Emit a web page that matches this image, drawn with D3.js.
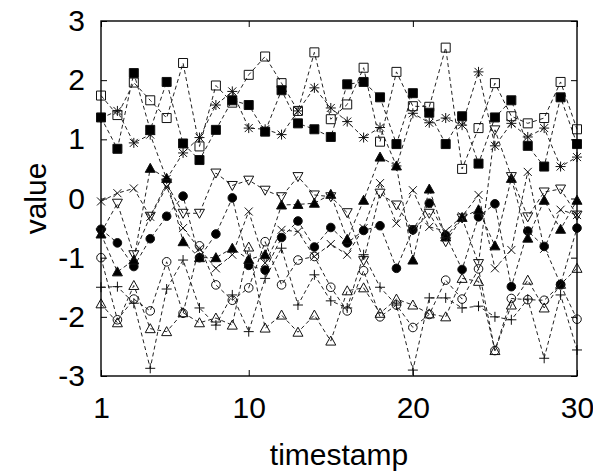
<!DOCTYPE html>
<html>
<head>
<meta charset="utf-8">
<script src="https://cdn.jsdelivr.net/npm/d3@7"></script>
<style>
  body { margin: 0; background: #fff; }
  text { font-family: "Liberation Sans", Arial, Helvetica, sans-serif; }
</style>
</head>
<body>
<svg id="chart" width="593" height="474"></svg>
<script>
// values, one array per series
var timestamps = [1,2,3,4,5,6,7,8,9,10,11,12,13,14,15,16,17,18,19,20,21,22,23,24,25,26,27,28,29,30];

var plusSeries     = [-1.5,-1.49,-1.77,-2.87,-1.53,-1.04,-1.85,-2.14,-1.63,-2.25,-1.35,-0.84,-1.8,-1.29,-1.73,-1.85,-0.95,-1.5,-1.8,-2.9,-1.68,-1.68,-1.85,-1.82,-2.0,-2.05,-1.7,-2.7,-1.63,-2.56];
var crossSeries    = [-0.05,0.09,0.17,-0.31,0.2,-0.5,-0.85,-1.18,-0.95,-0.22,-1.09,-0.53,-0.56,-0.98,-0.77,-0.95,-0.5,0.26,-0.42,0.14,-0.48,-0.55,-0.3,0.06,-1.18,-0.87,0.45,-0.85,-0.19,-0.28];
var starSeries     = [1.36,1.48,0.94,1.08,0.33,0.77,1.03,1.58,1.81,1.19,1.17,1.08,1.48,1.87,1.53,1.3,1.03,1.2,0.55,1.44,1.28,1.36,1.24,2.14,0.89,1.27,1.04,1.19,0.54,0.7];
var openSquare     = [1.74,1.41,1.96,1.66,1.36,2.29,0.88,1.91,1.62,2.09,2.4,1.95,1.48,2.47,1.34,1.59,2.21,0.96,2.14,1.56,1.55,2.55,0.5,1.19,1.95,1.39,1.27,1.36,1.97,1.17];
var filledSquare   = [1.37,0.84,2.12,1.16,1.97,0.93,0.65,1.16,1.66,1.58,1.13,1.83,1.27,1.17,1.04,1.93,1.97,1.71,0.92,1.78,1.45,0.92,1.39,0.59,1.37,1.66,0.89,0.54,1.71,0.92];
var openCircle     = [-1.0,-2.05,-1.7,-1.9,-1.07,-1.94,-0.8,-1.46,-1.72,-1.51,-0.73,-1.46,-1.04,-0.98,-1.5,-1.9,-1.22,-2.0,-1.8,-2.18,-1.96,-1.38,-1.7,-1.19,-2.57,-1.69,-1.71,-1.72,-1.46,-2.04];
var filledCircle   = [-0.52,-0.75,-1.15,-0.68,-0.3,0.04,-1.0,-0.6,0.01,-1.13,-1.21,-0.66,-0.38,-0.82,-0.49,-0.75,-0.54,-0.46,-1.18,-0.53,-0.08,-0.62,-1.2,-0.31,-0.09,-1.49,-0.55,-0.81,-1.45,-0.5];
var openTriangle   = [-1.78,-2.1,-1.47,-2.2,-2.25,-1.93,-2.1,-2.02,-2.14,-0.82,-2.19,-1.97,-2.26,-1.97,-2.41,-1.56,-1.51,-1.94,-1.7,-1.8,-1.95,-2.0,-1.35,-1.4,-2.57,-1.8,-1.38,-1.85,-1.45,-1.18];
var filledTriangle = [-0.6,-1.24,-1.04,0.51,0.34,-0.73,-1.0,-1.0,-0.84,-1.03,-0.95,-0.11,-0.1,-0.08,0.07,-0.69,-0.03,0.7,0.55,-1.04,0.16,-0.65,-0.32,-0.19,-0.8,0.34,-0.67,-0.03,-0.52,-0.03];
var openDownTri    = [-0.58,-0.08,-0.95,-0.3,0.25,-0.25,-0.25,0.43,0.22,0.31,0.14,0.03,0.37,0.06,0.03,-0.24,-1.05,0.09,-0.11,-0.53,-0.25,-0.73,-0.33,-1.1,1.16,0.37,-0.31,0.11,0.16,-0.28];

var xTicks = [1, 10, 20, 30];
var yTicks = [-3, -2, -1, 0, 1, 2, 3];

// marker shapes, gnuplot style point types 1..10
var shapes = {
  plus:  'M-5,0H5M0,-5V5',
  cross: 'M-4,-4L4,4M-4,4L4,-4',
  star:  'M-5,0H5M0,-5V5M-4,-4L4,4M-4,4L4,-4',
  square: 'M-4.5,-4.5H4.5V4.5H-4.5Z',
  circle: 'M4.3,0A4.3,4.3 0 1,1 -4.3,0A4.3,4.3 0 1,1 4.3,0Z',
  tri:   'M0,-5L5,4H-5Z',
  dtri:  'M0,5L5,-4H-5Z'
};

var series = [
  { values: plusSeries,     shape: 'plus',   filled: false },
  { values: crossSeries,    shape: 'cross',  filled: false },
  { values: starSeries,     shape: 'star',   filled: false },
  { values: openSquare,     shape: 'square', filled: false },
  { values: filledSquare,   shape: 'square', filled: true },
  { values: openCircle,     shape: 'circle', filled: false },
  { values: filledCircle,   shape: 'circle', filled: true },
  { values: openTriangle,   shape: 'tri',    filled: false },
  { values: filledTriangle, shape: 'tri',    filled: true },
  { values: openDownTri,    shape: 'dtri',   filled: false }
];

var svg = d3.select('#chart');
// plot box (don't call these top/left: window.top is read-only)
var boxL = 101, boxR = 577, boxT = 21, boxB = 376;

var x = d3.scaleLinear().domain([1, 30]).range([boxL, boxR]);
var y = d3.scaleLinear().domain([-3, 3]).range([boxB, boxT]);

var line = d3.line()
  .x((d, i) => x(timestamps[i]))
  .y(d => y(d));

var plot = svg.append('g');

series.forEach(function(s) {
  plot.append('path')
    .attr('d', line(s.values))
    .attr('fill', 'none')
    .attr('stroke', '#222')
    .attr('stroke-width', 1)
    .attr('stroke-dasharray', '4,3');

  plot.selectAll(null)
    .data(s.values)
    .enter()
    .append('path')
    .attr('transform', (d, i) => 'translate(' + x(timestamps[i]) + ',' + y(d) + ')')
    .attr('d', shapes[s.shape])
    .attr('fill', s.filled ? '#000' : 'none')
    .attr('stroke', '#111')
    .attr('stroke-width', 1);
});

// axes, ticks pointing inward on all four sides
var fmt = d => String(d);

svg.append('g')
  .attr('transform', 'translate(0,' + boxB + ')')
  .call(d3.axisBottom(x).tickValues(xTicks).tickSize(-6).tickPadding(21).tickFormat(fmt));

svg.append('g')
  .attr('transform', 'translate(' + boxL + ',0)')
  .call(d3.axisLeft(y).tickValues(yTicks).tickSize(-6).tickPadding(16).tickFormat(fmt));

svg.append('g')
  .attr('transform', 'translate(0,' + boxT + ')')
  .call(d3.axisTop(x).tickValues(xTicks).tickSize(-6).tickFormat(''));

svg.append('g')
  .attr('transform', 'translate(' + boxR + ',0)')
  .call(d3.axisRight(y).tickValues(yTicks).tickSize(-6).tickFormat(''));

svg.selectAll('.domain').remove();
svg.selectAll('.tick line').attr('stroke', '#000').attr('stroke-width', 1);
svg.selectAll('.tick text')
  .attr('fill', '#000')
  .style('font-size', '30px')
  .style('font-family', '"Liberation Sans", Arial, Helvetica, sans-serif');

svg.append('rect')
  .attr('x', boxL).attr('y', boxT)
  .attr('width', boxR - boxL).attr('height', boxB - boxT)
  .attr('fill', 'none')
  .attr('stroke', '#000')
  .attr('stroke-width', 1.4);

svg.append('text')
  .attr('x', (boxL + boxR) / 2)
  .attr('y', 465)
  .attr('text-anchor', 'middle')
  .style('font-size', '30px')
  .text('timestamp');

svg.append('text')
  .attr('transform', 'translate(46,' + y(0) + ') rotate(-90)')
  .attr('text-anchor', 'middle')
  .style('font-size', '30px')
  .text('value');
</script>
</body>
</html>
